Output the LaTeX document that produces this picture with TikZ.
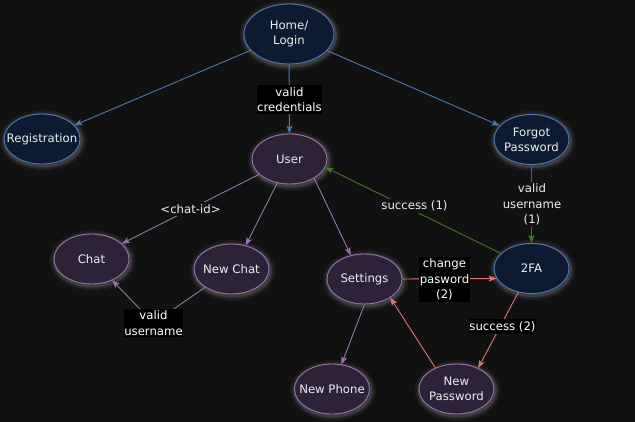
\documentclass[tikz,border=0pt]{standalone}
\usepackage{fontspec}
\setmainfont{DejaVu Sans}
\usetikzlibrary{shapes.geometric,arrows.meta}
\definecolor{bg}{HTML}{111111}
\definecolor{bfill}{HTML}{0C1B30}
\definecolor{bstroke}{HTML}{4E78B4}
\definecolor{pfill}{HTML}{2E2238}
\definecolor{pstroke}{HTML}{9B73AA}
\definecolor{gline}{HTML}{3A7A22}
\definecolor{rline}{HTML}{E57373}
\definecolor{ntext}{HTML}{EEEEEE}
\begin{document}
\begin{tikzpicture}[x=1pt,y=-1pt,
  txt/.style={font=\fontsize{11.7}{15.3}\selectfont, align=center},
  glow/.style={
    preaction={draw=white, draw opacity=0.04, line width=11pt, transform canvas={shift={(1pt,-1.5pt)}}},
    preaction={draw=white, draw opacity=0.06, line width=7pt, transform canvas={shift={(1pt,-1.5pt)}}},
    preaction={draw=white, draw opacity=0.10, line width=4pt, transform canvas={shift={(1pt,-1.5pt)}}}},
  base/.style={ellipse, inner xsep=-20pt, inner ysep=-10pt, minimum width=75pt, minimum height=50pt, txt, text=ntext, line width=0.9pt, glow},
  bnode/.style={base, fill=bfill, draw=bstroke},
  pnode/.style={base, fill=pfill, draw=pstroke},
  tip/.style={-{Stealth[length=8pt,width=6pt,inset=2pt]}},
  edge/.style={line width=0.9pt, tip},
  eblue/.style={edge, draw=bstroke},
  epurple/.style={edge, draw=pstroke},
  egreen/.style={edge, draw=gline},
  ered/.style={edge, draw=rline},
  lblk/.style={txt, fill=black, text=white, inner xsep=0.5pt, inner ysep=2pt},
  lbg/.style={txt, fill=bg, text=ntext, inner xsep=1pt, inner ysep=2pt}]
\useasboundingbox (0,0) rectangle (635,422);
\fill[bg] (0,0) rectangle (635,422);

% nodes
\node[bnode, minimum width=90pt, minimum height=60pt] (home) at (289,34) {Home/\\Login};
\node[bnode, minimum width=76pt] (reg) at (42,139) {Registration};
\node[pnode] (user) at (289.5,159) {User};
\node[bnode] (forgot) at (531.5,139.5) {Forgot\\Password};
\node[pnode] (chat) at (91.5,259) {Chat};
\node[pnode] (newchat) at (231.5,269) {New Chat};
\node[pnode] (settings) at (364.5,279) {Settings};
\node[bnode] (tfa) at (531.5,268.5) {2FA};
\node[pnode] (newphone) at (332,389) {New Phone};
\node[pnode] (newpw) at (456.5,389) {New\\Password};

\coordinate (vuc) at (153.5,323);

% edges
\draw[eblue] (home) -- (reg);
\draw[eblue] (home) -- (user);
\draw[eblue] (home) -- (forgot);
\draw[epurple] (user) -- (chat);
\draw[epurple] (user.-117) -- (newchat.59);
\draw[epurple] (user.-38) -- (settings.120);
\draw[epurple] (newchat) -- (vuc) -- (chat);
\draw[egreen] (forgot) -- (tfa);
\draw[egreen] (tfa) -- (user.-13);
\draw[ered] (settings.east) -- (tfa.196);
\draw[ered] (tfa.241) -- (newpw.44);
\draw[ered] (newpw.135) -- (settings.-36);
\draw[epurple] (settings.-90) -- (newphone.69);

% edge labels
\node[lblk] (l1) at (289.5,99.5) {valid\\credentials};
\node[lbg] (l2) at (190.5,209) {<chat-id>};
\node[lblk] (l3) at (vuc) {valid\\username};
\node[lbg] (l4) at (414.5,206) {success (1)};
\node[lbg] (l5) at (532,204.5) {valid\\username\\(1)};
\node[lblk] (l6) at (444.5,279.5) {change\\pasword\\(2)};
\node[lblk] (l7) at (502.5,326.5) {success (2)};
\end{tikzpicture}
\end{document}
